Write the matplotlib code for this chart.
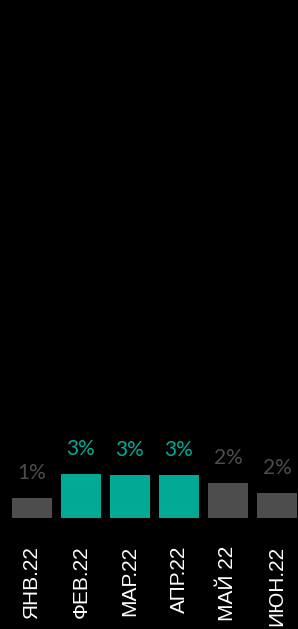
import matplotlib.pyplot as plt
import numpy as np

months = ['ЯНВ.22', 'ФЕВ.22', 'МАР.22', 'АПР.22', 'МАЙ 22', 'ИЮН.22']
values = [1.3, 2.9, 2.85, 2.8, 2.3, 1.65]
labels = ['1%', '3%', '3%', '3%', '2%', '2%']
highlight = [False, True, True, True, False, False]

teal = '#00aa95'
gray = '#4d4d4d'
colors = [teal if h else gray for h in highlight]

fig = plt.figure(figsize=(2.98, 6.29), dpi=100, facecolor='black')
ax = fig.add_axes([0, 1 - 518 / 629, 1, 518 / 629], facecolor='black')

x = np.arange(len(months))
ax.bar(x, values, width=0.8, color=colors)
for xi, v, lab, c in zip(x, values, labels, colors):
    ax.annotate(lab, (xi, v), xytext=(0, 15), textcoords='offset pixels',
                ha='center', va='bottom', color=c, fontsize=15,
                family='Lato')

ax.set_xlim(-32 / 49, 266 / 49)
ax.set_ylim(0, 34)
ax.set_xticks(x)
ax.set_xticklabels(months, rotation=90, color='white', fontsize=15,
                   family='Liberation Sans', va='top')
ax.tick_params(axis='x', length=0, pad=20)
ax.set_yticks([])
for s in ax.spines.values():
    s.set_visible(False)

fig.savefig('out.png', dpi=100, facecolor='black')
